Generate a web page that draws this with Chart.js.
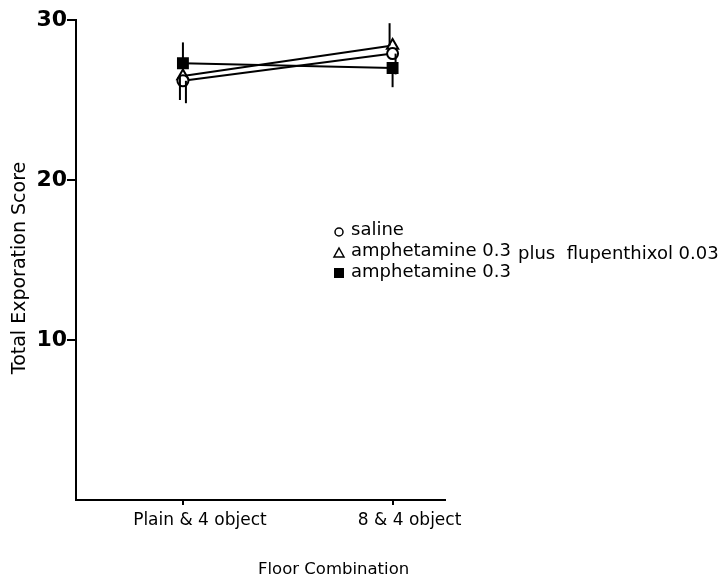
<!DOCTYPE html>
<html lang="en">
<head>
<meta charset="UTF-8">
<title>Total Exploration Score</title>
<script src="https://cdn.jsdelivr.net/npm/chart.js@4/dist/chart.umd.min.js"></script>
<style>
  body { margin: 0; background: #fff; }
</style>
</head>
<body>
<canvas id="chart" width="722" height="585"></canvas>
<script>
// floor combinations (x = 1, 2)
const floorLabels = ["Plain & 4 object", "8 & 4 object"];
const xPos = [1, 2];

// mean scores
const saline = [26.2, 27.9];
const amphFlup = [26.5, 28.4];
const amph = [27.3, 27.0];

// end of the one-sided error bar drawn for each point
const salineErr = [24.8, 26.6];
const amphFlupErr = [25.0, 29.8];
const amphErr = [28.6, 25.8];

const yTicks = [10, 20, 30];

const FONT = "'DejaVu Sans', sans-serif";

function pts(arr) {
  return arr.map((v, i) => ({ x: xPos[i], y: v }));
}

// one-sided vertical error bars through the chart's scales
const errorBars = {
  id: 'errorBars',
  afterDatasetsDraw(chart) {
    const ctx = chart.ctx;
    const xs = chart.scales.x, ys = chart.scales.y;
    ctx.save();
    ctx.strokeStyle = '#000';
    ctx.lineWidth = 2;
    chart.data.datasets.forEach(ds => {
      ds.errEnd.forEach((e, i) => {
        const px = xs.getPixelForValue(xPos[i]) + ds.errShift;
        ctx.beginPath();
        ctx.moveTo(px, ys.getPixelForValue(ds.data[i].y));
        ctx.lineTo(px, ys.getPixelForValue(e));
        ctx.stroke();
      });
    });
    ctx.restore();
  }
};

// axis titles and the legend sitting inside the plot
const annotations = {
  id: 'annotations',
  afterDraw(chart) {
    const ctx = chart.ctx;
    ctx.save();
    ctx.fillStyle = '#000';
    ctx.strokeStyle = '#000';
    ctx.textBaseline = 'middle';

    ctx.font = '16.5px ' + FONT;
    ctx.textAlign = 'left';
    ctx.fillText('Floor Combination', 258, 570);

    ctx.save();
    ctx.translate(20, 268);
    ctx.rotate(-Math.PI / 2);
    ctx.textAlign = 'center';
    ctx.font = '19px ' + FONT;
    ctx.fillText('Total Exporation Score', 0, 0);
    ctx.restore();

    ctx.font = '18px ' + FONT;
    ctx.textAlign = 'left';
    ctx.lineWidth = 1.5;
    // circle
    ctx.beginPath();
    ctx.arc(339, 232, 4, 0, Math.PI * 2);
    ctx.stroke();
    ctx.fillText('saline', 351, 230);
    // triangle
    ctx.beginPath();
    ctx.moveTo(339, 248);
    ctx.lineTo(344, 257);
    ctx.lineTo(334, 257);
    ctx.closePath();
    ctx.stroke();
    ctx.fillText('amphetamine 0.3', 351, 251);
    ctx.fillText('plus  flupenthixol 0.03', 518, 254);
    // filled square
    ctx.fillRect(334, 268, 10, 10);
    ctx.fillText('amphetamine 0.3', 351, 272);
    ctx.restore();
  }
};

const common = {
  borderColor: '#000',
  borderWidth: 2,
  pointBorderColor: '#000',
  pointBorderWidth: 2,
  showLine: true,
  tension: 0
};

new Chart(document.getElementById('chart'), {
  type: 'scatter',
  data: {
    datasets: [
      Object.assign({}, common, {
        label: 'saline', data: pts(saline), errEnd: salineErr, errShift: 3,
        pointStyle: 'circle', pointRadius: 5.5, pointBackgroundColor: '#fff'
      }),
      Object.assign({}, common, {
        label: 'amphetamine 0.3 plus flupenthixol 0.03', data: pts(amphFlup), errEnd: amphFlupErr, errShift: -3,
        pointStyle: 'triangle', pointRadius: 6.5, pointBackgroundColor: '#fff'
      }),
      Object.assign({}, common, {
        label: 'amphetamine 0.3', data: pts(amph), errEnd: amphErr, errShift: 0,
        pointStyle: 'rect', pointRadius: 7, pointBackgroundColor: '#000'
      })
    ]
  },
  options: {
    responsive: false,
    animation: false,
    layout: { padding: { top: 20, right: 277, left: 0, bottom: 0 } },
    plugins: { legend: { display: false }, tooltip: { enabled: false } },
    scales: {
      x: {
        type: 'linear',
        min: 0.49,
        max: 2.25,
        afterBuildTicks: s => { s.ticks = xPos.map(v => ({ value: v })); },
        afterFit: s => { s.height = 85; },
        grid: { drawOnChartArea: false, drawTicks: true, tickLength: 5, color: '#000', lineWidth: 2 },
        border: { display: true, color: '#000', width: 2 },
        ticks: {
          color: '#000',
          padding: 5,
          labelOffset: 17,
          font: { family: FONT, size: 17 },
          callback: v => floorLabels[xPos.indexOf(v)] || ''
        }
      },
      y: {
        min: 0,
        max: 30,
        afterBuildTicks: s => { s.ticks = yTicks.map(v => ({ value: v })); },
        afterFit: s => { s.width = 76; },
        grid: { drawOnChartArea: false, drawTicks: true, tickLength: 9, color: '#000', lineWidth: 2 },
        border: { display: true, color: '#000', width: 2 },
        ticks: {
          color: '#000',
          padding: 0,
          font: { family: FONT, size: 22, weight: 'bold' }
        }
      }
    }
  },
  plugins: [errorBars, annotations]
});
</script>
</body>
</html>
